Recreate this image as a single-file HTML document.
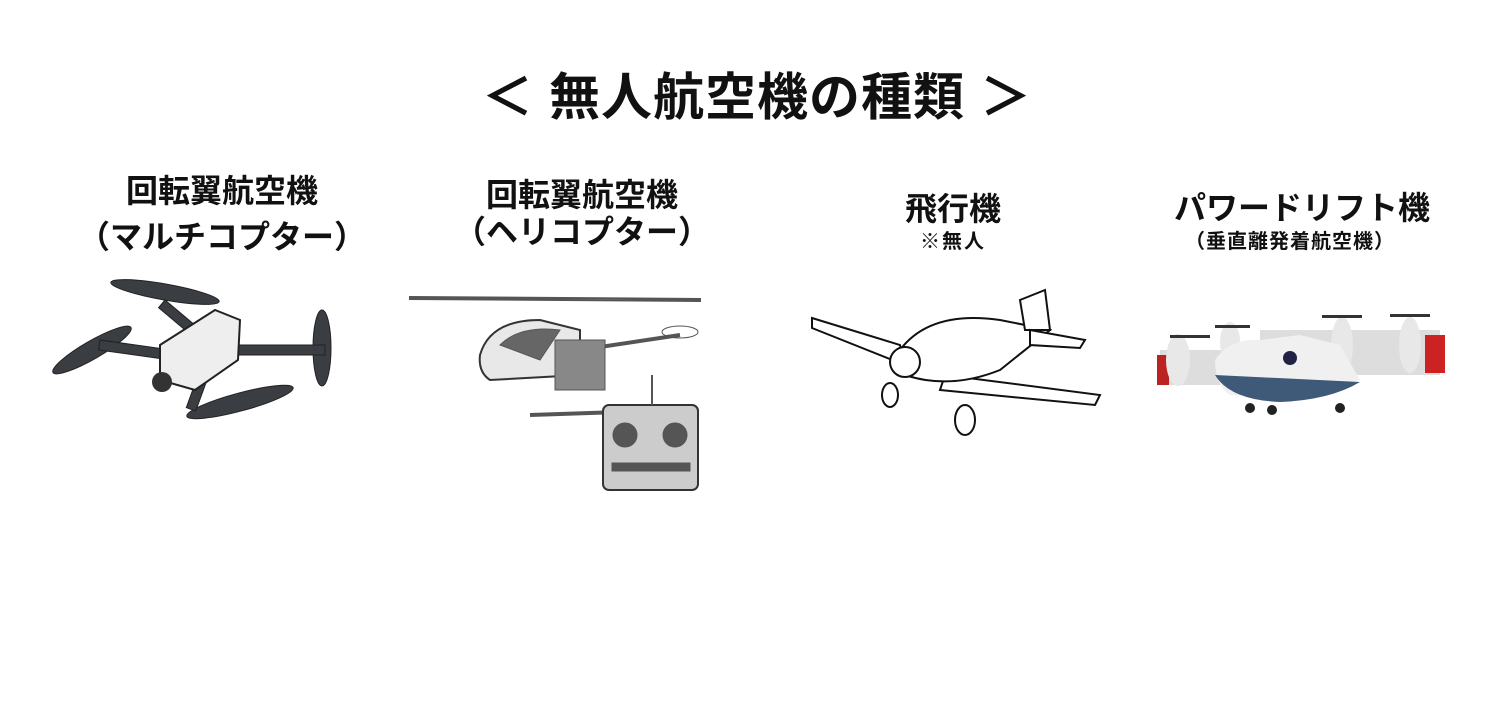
<!DOCTYPE html>
<html><head><meta charset="utf-8"><style>
body{margin:0;width:1512px;height:720px;background:#fff;position:relative;overflow:hidden;font-family:"Liberation Sans","Noto Sans CJK JP",sans-serif;font-weight:bold;color:#111}
.t{position:absolute;white-space:nowrap;transform:translateX(-50%);line-height:1.2}
svg{position:absolute;left:0;top:0}
</style></head><body>
<div class="t" style="left:757px;top:67px;font-size:51px;letter-spacing:1px">＜ 無人航空機の種類 ＞</div>
<div class="t" style="left:222px;top:172px;font-size:32px">回転翼航空機</div>
<div class="t" style="left:222px;top:218px;font-size:32px">（マルチコプター）</div>
<div class="t" style="left:582px;top:176px;font-size:32px">回転翼航空機</div>
<div class="t" style="left:582px;top:213px;font-size:32px">（ヘリコプター）</div>
<div class="t" style="left:953px;top:190px;font-size:32px">飛行機</div>
<div class="t" style="left:953px;top:230px;font-size:20px;letter-spacing:2px">※無人</div>
<div class="t" style="left:1302px;top:189px;font-size:32px">パワードリフト機</div>
<div class="t" style="left:1290px;top:230px;font-size:20px;letter-spacing:1px">（垂直離発着航空機）</div>
<svg width="1512" height="720">
<g fill="#3a3d42" stroke="#222">
<ellipse cx="165" cy="292" rx="55" ry="8" transform="rotate(10 165 292)"/>
<ellipse cx="92" cy="350" rx="45" ry="9" transform="rotate(-30 92 350)"/>
<ellipse cx="322" cy="348" rx="9" ry="38"/>
<ellipse cx="240" cy="402" rx="55" ry="9" transform="rotate(-15 240 402)"/>
<rect x="100" y="340" width="100" height="10" transform="rotate(8 100 340)"/>
<rect x="230" y="345" width="95" height="10"/>
<rect x="200" y="370" width="10" height="40" transform="rotate(20 200 370)"/>
<rect x="165" y="300" width="40" height="10" transform="rotate(40 165 300)"/>
</g>
<path d="M160 345 L215 310 L240 320 L238 360 L195 390 L160 380Z" fill="#eee" stroke="#222" stroke-width="2"/>
<circle cx="162" cy="382" r="10" fill="#333"/>
<g stroke="#555" fill="#ccc">
<path d="M410 297 L700 299 L700 301 L410 299Z" stroke-width="2"/>
<path d="M480 355 Q490 320 540 320 L580 330 L580 375 L490 380 Q478 372 480 355Z" fill="#e8e8e8" stroke="#333" stroke-width="2"/>
<path d="M500 345 Q520 325 560 330 L540 360Z" fill="#666"/>
<line x1="580" y1="350" x2="680" y2="335" stroke-width="4"/>
<ellipse cx="680" cy="332" rx="18" ry="6" fill="none"/>
<rect x="555" y="340" width="50" height="50" fill="#888"/>
<line x1="530" y1="415" x2="620" y2="412" stroke-width="4"/>
<rect x="603" y="405" width="95" height="85" rx="6" fill="#ccc" stroke="#333" stroke-width="2"/>
<circle cx="625" cy="435" r="12" fill="#555"/><circle cx="675" cy="435" r="12" fill="#555"/>
<rect x="612" y="463" width="78" height="8" fill="#555"/>
<line x1="652" y1="405" x2="652" y2="375" stroke-width="2"/>
</g>
<g fill="#fff" stroke="#111" stroke-width="2">
<path d="M812 318 L900 345 L905 365 L812 328Z"/>
<path d="M945 375 L1100 395 L1095 405 L940 390Z"/>
<path d="M900 350 Q930 310 1000 320 L1050 330 L1000 370 Q950 390 905 375Z"/>
<path d="M1020 300 L1045 290 L1050 330 L1025 330Z"/>
<path d="M1030 330 L1085 340 L1080 348 L1030 345Z"/>
<circle cx="905" cy="362" r="15"/>
<ellipse cx="890" cy="395" rx="8" ry="12"/><ellipse cx="965" cy="420" rx="10" ry="15"/>
</g>
<g>
<rect x="1260" y="330" width="180" height="45" fill="#ddd"/>
<rect x="1425" y="335" width="20" height="38" fill="#c22"/>
<rect x="1160" y="350" width="100" height="35" fill="#ddd"/>
<rect x="1157" y="355" width="12" height="30" fill="#b22"/>
<ellipse cx="1342" cy="345" rx="11" ry="28" fill="#e8e8e8"/>
<ellipse cx="1410" cy="345" rx="11" ry="28" fill="#e8e8e8"/>
<ellipse cx="1178" cy="360" rx="12" ry="26" fill="#e8e8e8"/>
<ellipse cx="1230" cy="342" rx="10" ry="20" fill="#e8e8e8"/>
<path d="M1215 360 Q1230 338 1260 340 L1300 335 L1340 345 L1360 380 Q1300 400 1230 395 Q1215 385 1215 360Z" fill="#f0f0f0"/>
<path d="M1215 375 L1360 382 Q1330 400 1280 402 Q1230 400 1215 375Z" fill="#3f5a78"/>
<circle cx="1290" cy="358" r="7" fill="#224"/>
<circle cx="1250" cy="408" r="5" fill="#222"/><circle cx="1272" cy="410" r="5" fill="#222"/><circle cx="1340" cy="408" r="5" fill="#222"/>
<rect x="1170" y="335" width="40" height="3" fill="#333"/><rect x="1215" y="325" width="35" height="3" fill="#333"/>
<rect x="1322" y="315" width="40" height="3" fill="#333"/><rect x="1390" y="314" width="40" height="3" fill="#333"/>
</g>
</svg>
</body></html>
